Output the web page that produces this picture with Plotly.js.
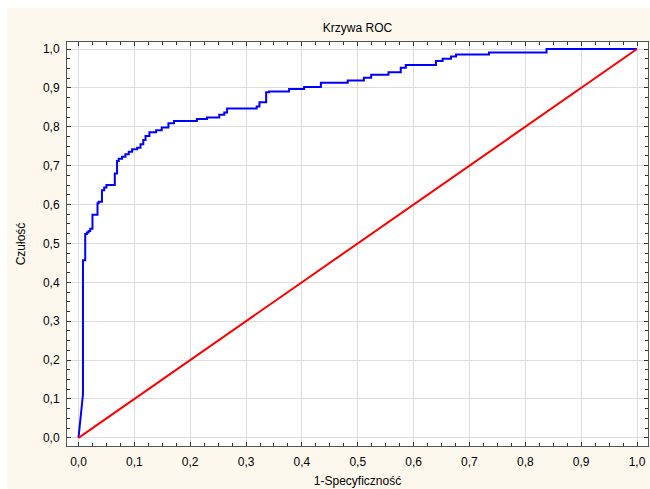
<!DOCTYPE html>
<html>
<head>
<meta charset="utf-8">
<script src="https://cdn.plot.ly/plotly-3.0.1.min.js"></script>
<style>
  html, body { margin: 0; padding: 0; background: #ffffff; }
  #chart { position: absolute; left: 7px; top: 8px; width: 643px; height: 481px; }
</style>
</head>
<body>
<div id="chart"></div>
<script>
// ROC curve points (1-specificity, sensitivity)
const rocFpr = [0, 0.008, 0.008, 0.012, 0.012, 0.015, 0.015, 0.018, 0.018, 0.021, 0.021, 0.025, 0.025,
  0.034, 0.034, 0.036, 0.036, 0.042, 0.042, 0.046, 0.046, 0.050, 0.050, 0.065, 0.065, 0.069, 0.069,
  0.072, 0.072, 0.078, 0.078, 0.084, 0.084, 0.090, 0.090, 0.096, 0.096, 0.105, 0.105, 0.111, 0.111,
  0.116, 0.116, 0.120, 0.120, 0.127, 0.127, 0.139, 0.139, 0.149, 0.149, 0.161, 0.161, 0.171, 0.171,
  0.212, 0.212, 0.230, 0.230, 0.252, 0.252, 0.261, 0.261, 0.266, 0.266, 0.319, 0.319, 0.324, 0.324,
  0.336, 0.336, 0.341, 0.341, 0.377, 0.377, 0.404, 0.404, 0.434, 0.434, 0.482, 0.482, 0.511, 0.511,
  0.524, 0.524, 0.555, 0.555, 0.577, 0.577, 0.586, 0.586, 0.640, 0.640, 0.652, 0.652, 0.667, 0.667,
  0.676, 0.676, 0.735, 0.735, 0.838, 0.838, 1.0];
const rocTpr = [0, 0.112, 0.457, 0.457, 0.524, 0.524, 0.528, 0.528, 0.532, 0.532, 0.538, 0.538, 0.574,
  0.574, 0.603, 0.603, 0.607, 0.607, 0.637, 0.637, 0.644, 0.644, 0.650, 0.650, 0.680, 0.680, 0.712,
  0.712, 0.718, 0.718, 0.723, 0.723, 0.729, 0.729, 0.736, 0.736, 0.742, 0.742, 0.746, 0.746, 0.755,
  0.755, 0.766, 0.766, 0.776, 0.776, 0.786, 0.786, 0.791, 0.791, 0.798, 0.798, 0.809, 0.809, 0.815,
  0.815, 0.820, 0.820, 0.824, 0.824, 0.831, 0.831, 0.837, 0.837, 0.847, 0.847, 0.852, 0.852, 0.863,
  0.863, 0.889, 0.889, 0.891, 0.891, 0.897, 0.897, 0.902, 0.902, 0.913, 0.913, 0.919, 0.919, 0.926,
  0.926, 0.934, 0.934, 0.940, 0.940, 0.952, 0.952, 0.959, 0.959, 0.969, 0.969, 0.975, 0.975, 0.981,
  0.981, 0.986, 0.986, 0.991, 0.991, 1.0, 1.0];
// Reference diagonal
const diagX = [0, 1];
const diagY = [0, 1];

const chartTitle = 'Krzywa ROC';
const xTitle = '1-Specyficzność';
const yTitle = 'Czułość';

const FONT = 'Liberation Sans, Arial, sans-serif';
const frameColor = '#555555';

const axisCommon = {
  showline: true,
  linecolor: frameColor,
  linewidth: 1,
  mirror: 'ticks',
  ticks: 'inside',
  ticklen: 4,
  tickcolor: '#333333',
  tickwidth: 1,
  dtick: 0.1,
  tick0: 0,
  tickformat: '.1f',
  showgrid: true,
  gridcolor: '#dcdcdc',
  gridwidth: 1,
  zeroline: false,
  tickfont: { family: FONT, size: 12, color: '#000000' },
  minor: { dtick: 0.025, ticks: 'inside', ticklen: 3, tickcolor: '#333333', showgrid: false },
  fixedrange: true
};

const traces = [
  { x: rocFpr, y: rocTpr, type: 'scatter', mode: 'lines',
    line: { color: '#0000ff', width: 2 }, hoverinfo: 'skip', showlegend: false },
  { x: diagX, y: diagY, type: 'scatter', mode: 'lines',
    line: { color: '#ff0000', width: 2 }, hoverinfo: 'skip', showlegend: false }
];

const layout = {
  width: 643,
  height: 481,
  paper_bgcolor: '#fdf8ee',
  plot_bgcolor: '#ffffff',
  separators: ', ',
  margin: { l: 60, r: 2, t: 34, b: 43, pad: 0 },
  font: { family: FONT, size: 12, color: '#000000' },
  title: { text: chartTitle, font: { family: FONT, size: 12, color: '#000000' },
           x: 0.5, xref: 'paper', xanchor: 'center', y: 0.958, yref: 'container', yanchor: 'middle' },
  xaxis: Object.assign({}, axisCommon, {
    range: [-0.0206, 1.0197],
    ticklabelstandoff: 5,
    title: { text: xTitle, font: { family: FONT, size: 12, color: '#000000' }, standoff: 8 }
  }),
  yaxis: Object.assign({}, axisCommon, {
    range: [-0.021, 1.018],
    ticklabelstandoff: 4,
    title: { text: yTitle, font: { family: FONT, size: 12, color: '#000000' }, standoff: 14 }
  }),
  showlegend: false
};

Plotly.newPlot('chart', traces, layout, { staticPlot: true, displayModeBar: false });
</script>
</body>
</html>
